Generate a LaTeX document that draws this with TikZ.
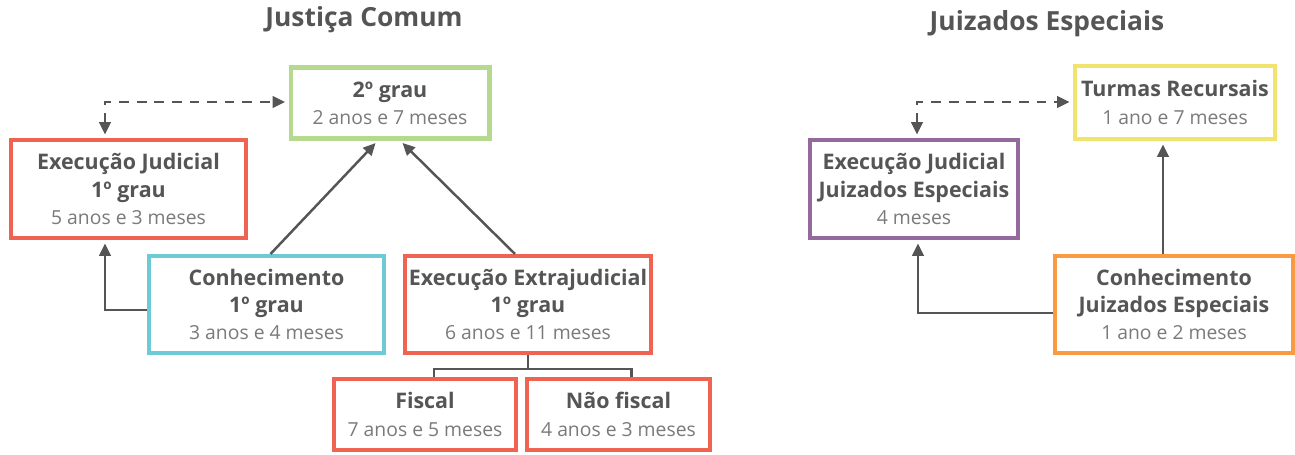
\documentclass[tikz,border=0pt]{standalone}
\usepackage{fontspec}
\setmainfont{Open Sans}
\usetikzlibrary{arrows.meta,calc}
\definecolor{txtgray}{HTML}{555555}
\definecolor{subgray}{HTML}{7A7A7A}
\definecolor{linegray}{HTML}{555555}
\definecolor{boxred}{HTML}{EF6352}
\definecolor{boxgreen}{HTML}{B5D98E}
\definecolor{boxcyan}{HTML}{6DCAD6}
\definecolor{boxyellow}{HTML}{F0E46E}
\definecolor{boxpurple}{HTML}{94699C}
\definecolor{boxorange}{HTML}{F99A45}
\newcommand\sublabel[1]{{\fontsize{11}{15.5}\selectfont\mdseries\color{subgray}#1}}
\begin{document}
\begin{tikzpicture}[x=0.02cm,y=0.02cm,
  box/.style={draw=#1,line width=2.3pt,fill=white,align=center,inner sep=0pt,
    text=txtgray,font=\fontsize{12.2}{15.5}\selectfont\bfseries},
  arr/.style={draw=linegray,line width=1.4pt,-{Triangle[length=7pt,width=6.5pt]},shorten >=2pt},
  dsh/.style={draw=linegray,line width=1.4pt,dash pattern=on 5.5pt off 4.5pt,
    {Triangle[length=7pt,width=6.5pt]}-{Triangle[length=7pt,width=6.5pt]},shorten >=2pt,shorten <=2pt},
  plain/.style={draw=linegray,line width=1.4pt},
  ttl/.style={text=txtgray,font=\fontsize{15}{17}\selectfont\bfseries}]
\useasboundingbox (0,0) rectangle (1295,455);
\node[ttl] (tjc) at (364,435) {Justiça Comum};
\node[ttl] (tje) at (1047,431) {Juizados Especiais};
\node[box=boxgreen,minimum width=3.98cm,minimum height=1.42cm] (seg) at (390,352)
  {2º grau\\\sublabel{2 anos e 7 meses}};
\node[box=boxred,minimum width=4.70cm,minimum height=1.96cm] (ej) at (128.5,266)
  {Execução Judicial\\1º grau\\\sublabel{5 anos e 3 meses}};
\node[box=boxcyan,minimum width=4.70cm,minimum height=1.94cm] (conh) at (266.5,150.5)
  {Conhecimento\\1º grau\\\sublabel{3 anos e 4 meses}};
\node[box=boxred,minimum width=4.92cm,minimum height=1.94cm] (extra) at (528,150.5)
  {Execução Extrajudicial\\1º grau\\\sublabel{6 anos e 11 meses}};
\node[box=boxred,minimum width=3.64cm,minimum height=1.42cm] (fisc) at (425,40.5)
  {Fiscal\\\sublabel{7 anos e 5 meses}};
\node[box=boxred,minimum width=3.66cm,minimum height=1.42cm] (nfisc) at (618.5,40.5)
  {Não fiscal\\\sublabel{4 anos e 3 meses}};
\node[box=boxyellow,minimum width=4.00cm,minimum height=1.46cm] (turmas) at (1175,352.5)
  {Turmas Recursais\\\sublabel{1 ano e 7 meses}};
\node[box=boxpurple,minimum width=4.16cm,minimum height=1.96cm] (ejje) at (914,266)
  {Execução Judicial\\Juizados Especiais\\\sublabel{4 meses}};
\node[box=boxorange,minimum width=4.76cm,minimum height=1.94cm] (conhje) at (1174,150.5)
  {Conhecimento\\Juizados Especiais\\\sublabel{1 ano e 2 meses}};
\coordinate (dl) at (105,353);
\coordinate (cl) at (105,145);
\coordinate (dr) at (917,353);
\coordinate (cr) at (918,142);
\draw[dsh] (ej.north -| dl) -- (dl) -- (seg.west |- dl);
\draw[arr] (conh.west |- cl) -- (cl) -- (cl |- ej.south);
\draw[arr] ($(conh.north)+(4,0)$) -- ($(seg.south)+(-12,0)$);
\draw[arr] ($(extra.north)+(-13,0)$) -- ($(seg.south)+(10,0)$);
\draw[plain] (extra.south) -- ++(0,-14) coordinate (br);
\draw[plain] ($(fisc.north)+(9,0)$) |- (br) -| ($(nfisc.north)+(13,0)$);
\draw[dsh] (ejje.north -| dr) -- (dr) -- (turmas.west |- dr);
\draw[arr] (conhje.north -| turmas.south) ++(-12,0) -- ($(turmas.south)+(-12,0)$);
\draw[arr] (conhje.west |- cr) -- (cr) -- (cr |- ejje.south);
\end{tikzpicture}
\end{document}
